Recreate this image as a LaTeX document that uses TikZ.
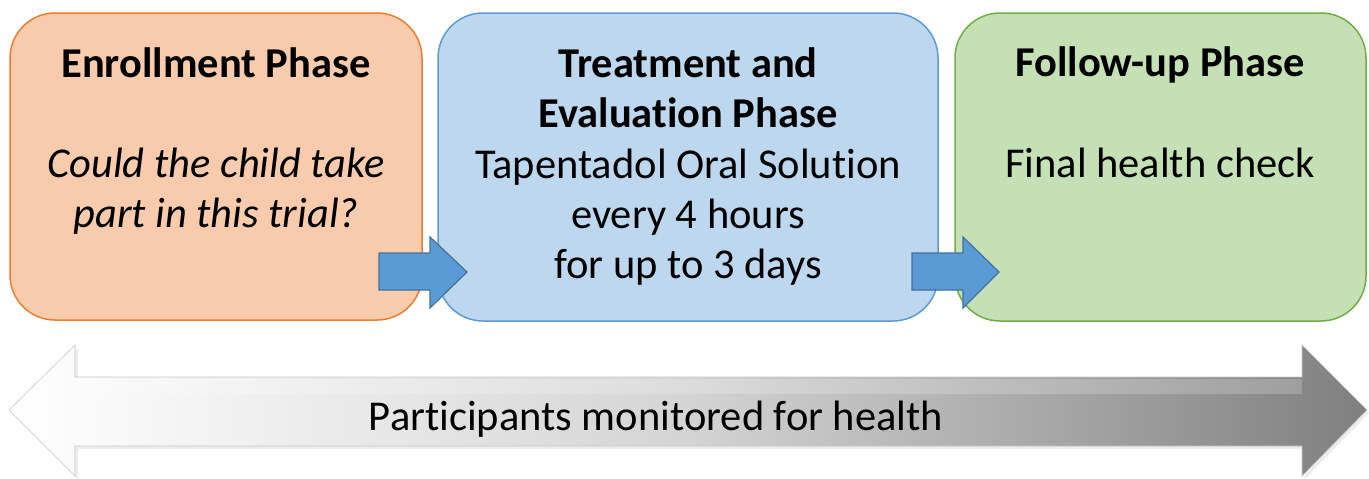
\documentclass[tikz,border=0pt]{standalone}
\usepackage{fontspec}
\setmainfont{Carlito}[Ligatures=NoCommon]
\definecolor{orfill}{HTML}{F8CBAD}
\definecolor{ordraw}{HTML}{ED7D31}
\definecolor{blfill}{HTML}{BDD7EE}
\definecolor{bldraw}{HTML}{5B9BD5}
\definecolor{grfill}{HTML}{C5E0B4}
\definecolor{grdraw}{HTML}{70AD47}
\definecolor{arfill}{HTML}{5B9BD5}
\definecolor{ardraw}{HTML}{41719C}
\tikzset{
  phase/.style={rounded corners=45pt, line width=1.5pt, inner sep=0pt},
  txt/.style={font=\fontsize{42.5}{50}\selectfont, anchor=base, inner sep=0pt},
  ttl/.style={txt, font=\fontsize{42.5}{50}\selectfont\bfseries},
  blockarrow/.style={fill=arfill, draw=ardraw, line width=1.2pt, line join=miter},
}
\begin{document}
\begin{tikzpicture}[x=1pt,y=-1pt]
\useasboundingbox (0,0) rectangle (1369,479);
% phase boxes
\draw[phase, fill=orfill, draw=ordraw] (10,13) rectangle (422,320);
\node[inner sep=0pt] (enr) at (216,166.5) {};
\draw[phase, fill=blfill, draw=bldraw] (438,13) rectangle (938,321);
\node[inner sep=0pt] (trt) at (688,167) {};
\draw[phase, fill=grfill, draw=grdraw] (955,13) rectangle (1366,321);
\node[inner sep=0pt] (fol) at (1160,167) {};
% texts
\node[ttl] (t1) at (216,77) {Enrollment Phase};
\node[txt] (t1a) at (216,177) {\itshape Could the child take};
\node[txt] (t1b) at (216,227) {\itshape part in this trial?};
\node[ttl] (t2) at (688,77) {Treatment and};
\node[ttl] (t2a) at (688,127.5) {Evaluation Phase};
\node[txt] (t2b) at (688,178) {Tapentadol Oral Solution};
\node[txt] (t2c) at (688,228) {every 4 hours};
\node[txt] (t2d) at (688,278.5) {for up to 3 days};
\node[ttl] (t3) at (1160,76) {Follow-up Phase};
\node[txt] (t3a) at (1160,177) {Final health check};
% block arrows
\draw[blockarrow] (379,253) -- (430,253) -- (430,237) -- (467,272) -- (430,308) -- (430,290) -- (379,290) -- cycle;
\draw[blockarrow] (912,253) -- (963,253) -- (963,237) -- (999,272) -- (963,308) -- (963,290) -- (912,290) -- cycle;
% big double arrow
\fill[black!12, opacity=0.6] (12,413) -- (78,348) -- (78,381) -- (1305,381) -- (1305,348) -- (1369,413) -- (1305,479) -- (1305,449) -- (78,449) -- (78,479) -- cycle;
\shade[left color=white, right color=black!50, middle color=black!17, draw=black!22, line width=0.6pt]
  (9,410) -- (75,345) -- (75,377) -- (1302,377) -- (1302,345) -- (1367,410) -- (1302,476) -- (1302,446) -- (75,446) -- (75,476) -- cycle;
\fill[white, opacity=0.2] (75,379) rectangle (1302,394);
\node[txt] (mon) at (656,430) {Participants monitored for health};
\end{tikzpicture}
\end{document}
